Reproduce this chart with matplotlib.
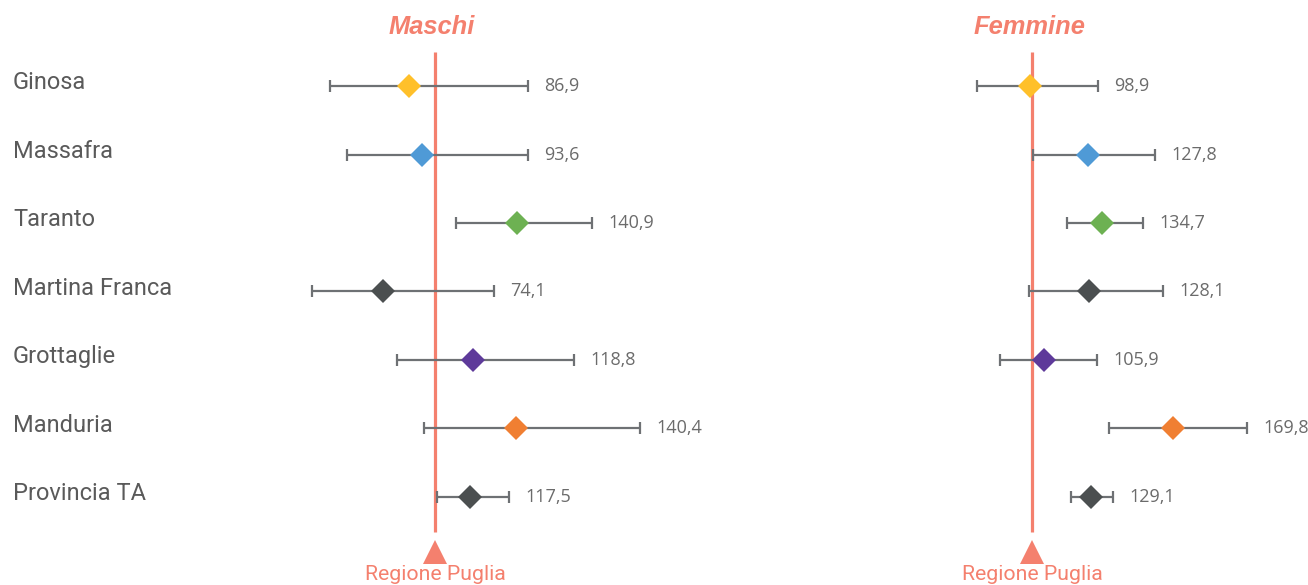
import matplotlib
matplotlib.use("Agg")
import matplotlib.pyplot as plt
from matplotlib import transforms

# data
comuni = ["Ginosa", "Massafra", "Taranto", "Martina Franca",
          "Grottaglie", "Manduria", "Provincia TA"]
colori = ["#FFC02A", "#4F9AD6", "#6DB152", "#4B4F50",
          "#5E3A9A", "#F07F32", "#4B4F50"]

maschi_val = [86.9, 93.6, 140.9, 74.1, 118.8, 140.4, 117.5]
maschi_low = [47.5, 56.0, 110.5, 38.5, 81.0, 94.5, 101.0]
maschi_high = [146.5, 146.5, 178.5, 129.5, 169.5, 202.5, 137.0]

femmine_val = [98.9, 127.8, 134.7, 128.1, 105.9, 169.8, 129.1]
femmine_low = [72.8, 100.5, 117.3, 98.5, 84.2, 138.1, 119.3]
femmine_high = [132.7, 160.9, 155.0, 164.9, 132.2, 206.4, 140.1]

RIF = 100  # Regione Puglia
SALMON = "#F4806E"
GRIGIO = "#6E7174"

W, H = 1308, 585
fig = plt.figure(figsize=(W / 100, H / 100), dpi=100)

def px2fig(x0, x1):
    return [x0 / W, 0, (x1 - x0) / W, 1]

ax_m = fig.add_axes(px2fig(235, 685))
ax_f = fig.add_axes(px2fig(830, 1305))
ax_m.set_xlim(0, 225)
ax_f.set_xlim(0, 235.1)

y_top = -86 / 68.5
y_bot = (H - 86) / 68.5

def pannello(ax, titolo, val, low, high):
    ax.set_ylim(y_bot, y_top)
    ax.axis("off")
    ax.plot([RIF, RIF], [-0.5, 6.51], color=SALMON, lw=2.3, zorder=1,
            solid_capstyle="butt")
    for i, (v, lo, hi, c) in enumerate(zip(val, low, high, colori)):
        ax.errorbar(v, i, xerr=[[v - lo], [hi - v]], fmt="none",
                    ecolor=GRIGIO, elinewidth=1.6, capsize=4, capthick=1.6,
                    zorder=2)
        ax.plot(v, i, marker="D", markersize=12.5, color=c, zorder=3,
                markeredgewidth=0)
        tr = ax.transData + transforms.ScaledTranslation(16 / 100, 0, fig.dpi_scale_trans)
        ax.text(hi, i, f"{v:.1f}".replace(".", ","), transform=tr,
                ha="left", va="center", fontsize=13, color="#6B6B6B",
                family="Open Sans")
    ax.plot(RIF, 6.8, marker="^", markersize=17, color=SALMON,
            markeredgewidth=0, clip_on=False)
    ax.text(RIF, 7.13, "Regione Puglia", ha="center", va="center",
            fontsize=15.3, color=SALMON, family="Roboto")
    ax.text(RIF - 1.5, -0.86, titolo, ha="center", va="center", fontsize=18.4,
            color=SALMON, family="Liberation Sans", weight="bold", style="italic")

pannello(ax_m, "Maschi", maschi_val, maschi_low, maschi_high)
pannello(ax_f, "Femmine", femmine_val, femmine_low, femmine_high)

lab_tr = transforms.blended_transform_factory(fig.transFigure, ax_m.transData)
for i, nome in enumerate(comuni):
    fig.text(13 / W, i - 0.05, nome, transform=lab_tr, ha="left", va="center",
             fontsize=17, color="#5A5A5A", family="Roboto")

fig.savefig("out.png", dpi=100)
